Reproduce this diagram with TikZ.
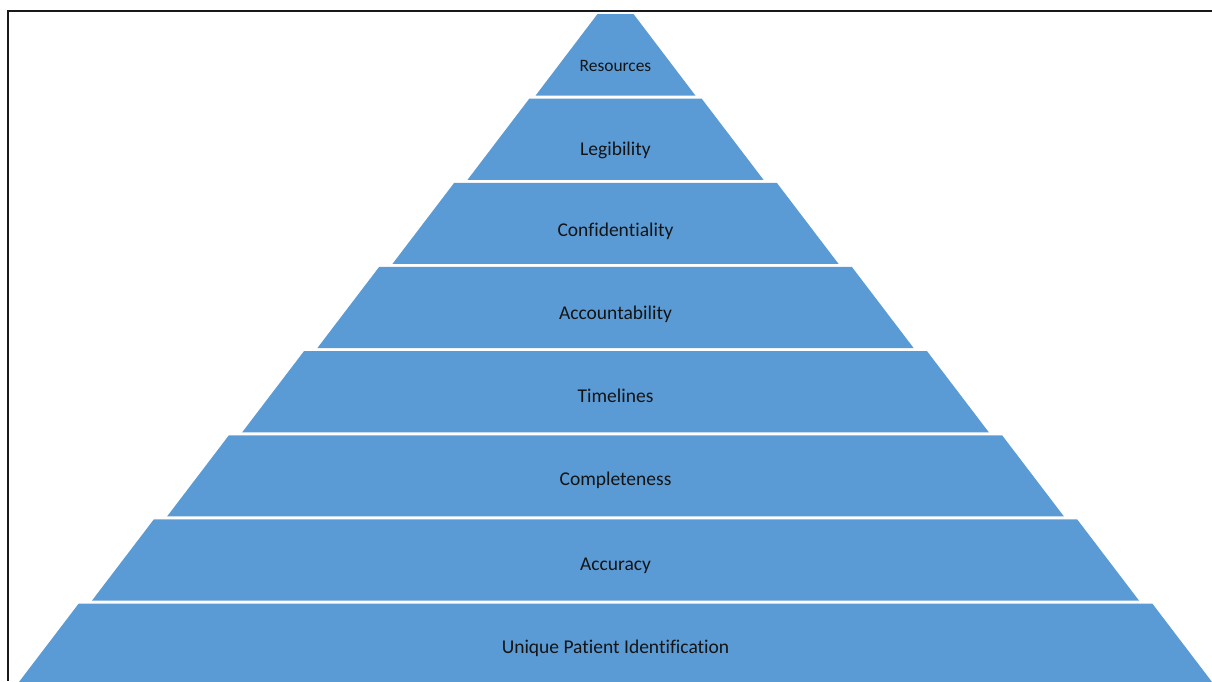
\documentclass[tikz,border=0pt]{standalone}
\usepackage{fontspec}
\setmainfont{Carlito}[Ligatures={NoCommon,NoRare,NoContextual}]
\definecolor{tierblue}{HTML}{5B9BD5}
\definecolor{txt}{HTML}{141414}
\tikzset{
  tier/.style={fill=tierblue, draw=none},
  lbl/.style={anchor=base, inner sep=0pt, text=txt, font=\fontsize{19.5}{23}\selectfont},
  lblsmall/.style={anchor=base, inner sep=0pt, text=txt, font=\fontsize{17.4}{21}\selectfont},
  frameline/.style={draw=black!90, line width=2pt}
}
\begin{document}
\begin{tikzpicture}[x=1pt,y=-1pt]
\useasboundingbox (0,0) rectangle (1212,681);
\begin{scope}
\clip (0,0) rectangle (1212,681);
% tiers: (top y, bottom y, top half-width, bottom half-width), centre x = 615.5
\fill[tier] (615.5-18,14) -- (615.5+18,14) -- (615.5+80,95.65) -- (615.5-80,95.65) -- cycle;
\fill[tier] (615.5-86.2,98.65) -- (615.5+86.2,98.65) -- (615.5+148.0,179.8) -- (615.5-148.0,179.8) -- cycle;
\fill[tier] (615.5-161.3,182.8) -- (615.5+161.3,182.8) -- (615.5+223.1,263.95) -- (615.5-223.1,263.95) -- cycle;
\fill[tier] (615.5-236.4,266.95) -- (615.5+236.4,266.95) -- (615.5+298.2,348.1) -- (615.5-298.2,348.1) -- cycle;
\fill[tier] (615.5-311.5,351.1) -- (615.5+311.5,351.1) -- (615.5+373.3,432.25) -- (615.5-373.3,432.25) -- cycle;
\fill[tier] (615.5-386.6,435.25) -- (615.5+386.6,435.25) -- (615.5+448.4,516.4) -- (615.5-448.4,516.4) -- cycle;
\fill[tier] (615.5-461.7,519.4) -- (615.5+461.7,519.4) -- (615.5+523.5,600.55) -- (615.5-523.5,600.55) -- cycle;
\fill[tier] (615.5-536.8,603.55) -- (615.5+536.8,603.55) -- (615.5+598.6,684.7) -- (615.5-598.6,684.7) -- cycle;
\end{scope}
% frame (left and top edges only)
\coordinate (fbl) at (7.8,681);
\coordinate (ftl) at (7.8,11);
\coordinate (ftr) at (1212,11);
\draw[frameline] (fbl) -- (ftl) -- (ftr);
% labels
\node[lblsmall] (t0) at (615.5,71) {Resources};
\node[lbl] (t1) at (615.5,155) {Legibility};
\node[lbl] (t2) at (615.5,236.8) {Confidentiality};
\node[lbl] (t3) at (615.5,319.5) {Accountability};
\node[lbl] (t4) at (615.5,402.3) {Timelines};
\node[lbl] (t5) at (615.5,485.5) {Completeness};
\node[lbl] (t6) at (615.5,570.3) {Accuracy};
\node[lbl] (t7) at (615.5,653.3) {Unique Patient Identification};
\end{tikzpicture}
\end{document}
